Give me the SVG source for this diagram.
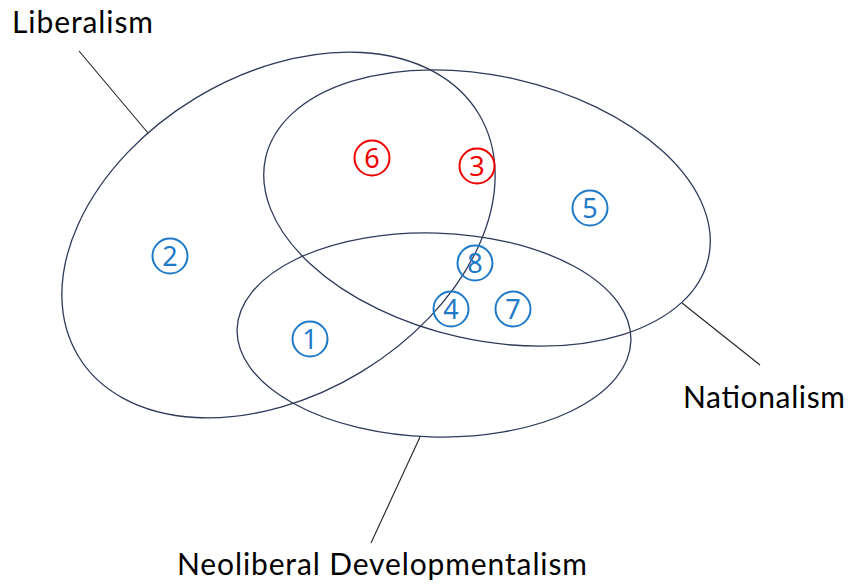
<svg xmlns="http://www.w3.org/2000/svg" width="850" height="584" viewBox="0 0 850 584">
<style>
.set{fill:none;stroke:#2E3A59;stroke-width:1.3}
.lead{stroke:#222;stroke-width:1.1;fill:none}
.lbl{font-family:Lato,"Open Sans","Liberation Sans",sans-serif;font-size:30px;fill:#000}
.mark circle{fill:none;stroke-width:2}
.mark text{font-family:"Noto Sans","Open Sans","Liberation Sans",sans-serif;font-size:27px;text-anchor:middle}
.blue circle{stroke:#1F7AC8}.blue text{fill:#1F7AC8}
.red circle{stroke:#F00000}.red text{fill:#F00000}
</style>
<rect width="850" height="584" fill="#fff"/>
<g id="liberalism">
<ellipse class="set" cx="278.5" cy="235" rx="234" ry="160" transform="rotate(-31.2 278.5 235)"/>
<text class="lbl" x="12" y="33" textLength="141">Liberalism</text>
</g>
<g id="nationalism">
<ellipse class="set" cx="487" cy="208" rx="227" ry="132" transform="rotate(12.8 487 208)"/>
<text class="lbl" x="683" y="408" textLength="162">Nationalism</text>
</g>
<g id="neoliberal">
<ellipse class="set" cx="434" cy="335" rx="197" ry="102" transform="rotate(1.7 434 335)"/>
<text class="lbl" x="177" y="575" textLength="410">Neoliberal Developmentalism</text>
</g>
<g id="connectors">
<line class="lead" x1="79" y1="51" x2="148" y2="133"/>
<line class="lead" x1="682" y1="303" x2="760" y2="365"/>
<line class="lead" x1="420" y1="437" x2="371" y2="543"/>
</g>
<g id="m6" class="mark red"><circle cx="372" cy="158" r="17.5"/><text x="372" y="167.5">6</text></g>
<g id="m3" class="mark red"><circle cx="477" cy="166" r="17.5"/><text x="477" y="175.5">3</text></g>
<g id="m5" class="mark blue"><circle cx="590" cy="208" r="17.5"/><text x="590" y="217.5">5</text></g>
<g id="m2" class="mark blue"><circle cx="170" cy="256" r="17.5"/><text x="170" y="265.5">2</text></g>
<g id="m8" class="mark blue"><circle cx="475" cy="263" r="17.5"/><text x="475" y="272.5">8</text></g>
<g id="m4" class="mark blue"><circle cx="451" cy="309" r="17.5"/><text x="451" y="318.5">4</text></g>
<g id="m7" class="mark blue"><circle cx="513" cy="309" r="17.5"/><text x="513" y="318.5">7</text></g>
<g id="m1" class="mark blue"><circle cx="310" cy="339" r="17.5"/><text x="310" y="348.5">1</text></g>
</svg>
